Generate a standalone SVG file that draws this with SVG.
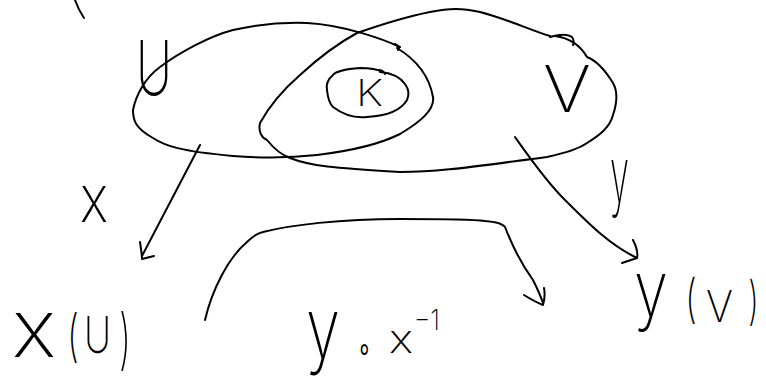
<svg xmlns="http://www.w3.org/2000/svg" width="766" height="381" viewBox="0 0 766 381">
<style>
.s{fill:none;stroke:#000;stroke-width:2;stroke-linecap:round;stroke-linejoin:round}
.t{font-family:Inter,"Liberation Sans",sans-serif;font-weight:200;fill:#000}
</style>
<rect width="766" height="381" fill="#fff"/>
<path class="s" d="M75,0 C77,6 80,12 84,18" stroke-width="1.5"/>
<g id="U">
<path class="s" d="M400,47 C385,40 345,25 307,23 C280,22 255,25 233,30 C210,36 180,52 160,67 C145,78 136,95 133,110 C133,120 135,128 153,138 C165,146 180,151 233,156 C260,158 290,158 317,155 C350,151 380,144 400,134 C420,122 435,110 433,97 C430,80 420,62 397,48 M395,44 C399,46 400,48 398,50"/>
<text class="t" x="136" y="95" font-size="75" textLength="36" lengthAdjust="spacingAndGlyphs">U</text>
</g>
<g id="V">
<path class="s" d="M550,36 C530,30 510,20 480,12 C462,8 450,8 430,12 C405,17 380,25 357,33 C335,45 313,63 300,75 C285,88 270,105 260,123 C258,132 262,138 267,140 C275,150 282,155 290,158 C310,166 333,168 400,172 C440,172 470,167 547,157 C570,152 580,148 587,143 C600,135 610,127 613,115 C618,100 617,90 613,83 C605,70 595,60 587,57 C580,45 570,38 555,36 M550,37 C560,34 568,34 572,37 C574,40 574,43 573,45"/>
<text class="t" x="543" y="112" font-size="64" textLength="48" lengthAdjust="spacingAndGlyphs">V</text>
</g>
<g id="K">
<path class="s" d="M383,72 C375,68 365,68 360,68 C345,69 335,72 333,75 C327,80 326,85 327,90 C328,100 330,104 333,107 C345,116 358,118 367,117 C385,116 400,112 407,100 C410,93 408,88 405,84 C400,77 392,73 380,72 M378,70 C382,70 385,72 385,74"/>
<text class="t" x="356" y="106" font-size="36" textLength="27" lengthAdjust="spacingAndGlyphs">K</text>
</g>
<g id="connectors">
<path class="s" d="M200,145 C188,168 165,212 142,256 M140,242 C141,249 142,255 142,259 L154,256"/>
<path class="s" d="M515,137 C530,158 545,180 565,200 C590,225 610,245 637,258 M633,240 C637,248 638,254 637,258 L622,263"/>
<path class="s" d="M205,320 C212,290 228,258 247,242 C253,236 258,233 263,232 C290,225 340,219 400,219 C440,219 470,219 485,221 C497,222 503,224 505,227 C510,240 520,262 533,280 C538,290 541,297 543,303 M524,295 C532,300 538,303 543,305 C545,298 545,293 544,288"/>
</g>
<g id="label-x">
<text class="t" x="80" y="222" font-size="66" textLength="28" lengthAdjust="spacingAndGlyphs">x</text>
</g>
<g id="label-y">
<text class="t" x="610" y="202" font-size="77" textLength="19" lengthAdjust="spacingAndGlyphs">y</text>
</g>
<g id="xU">
<text class="t" x="12" y="357" font-size="80" textLength="44" lengthAdjust="spacingAndGlyphs">x</text>
<text class="t" x="67" y="355" font-size="56" textLength="12" lengthAdjust="spacingAndGlyphs">(</text>
<text class="t" x="84" y="353" font-size="50" textLength="27" lengthAdjust="spacingAndGlyphs">U</text>
<text class="t" x="119" y="362" font-size="66" textLength="12" lengthAdjust="spacingAndGlyphs">)</text>
</g>
<g id="composition">
<text class="t" x="306" y="358" font-size="85" textLength="34" lengthAdjust="spacingAndGlyphs">y</text>
<text class="t" x="357" y="360" font-size="36" textLength="15" lengthAdjust="spacingAndGlyphs">∘</text>
<text class="t" x="389" y="353" font-size="40" textLength="24" lengthAdjust="spacingAndGlyphs">x</text>
<text class="t" x="414" y="330" font-size="28" textLength="26" lengthAdjust="spacingAndGlyphs">−1</text>
</g>
<g id="yV">
<text class="t" x="634" y="316" font-size="76" textLength="34" lengthAdjust="spacingAndGlyphs">y</text>
<text class="t" x="685" y="317" font-size="52" textLength="12" lengthAdjust="spacingAndGlyphs">(</text>
<text class="t" x="706" y="322" font-size="44" textLength="27" lengthAdjust="spacingAndGlyphs">V</text>
<text class="t" x="748" y="319" font-size="52" textLength="11" lengthAdjust="spacingAndGlyphs">)</text>
</g>
</svg>
